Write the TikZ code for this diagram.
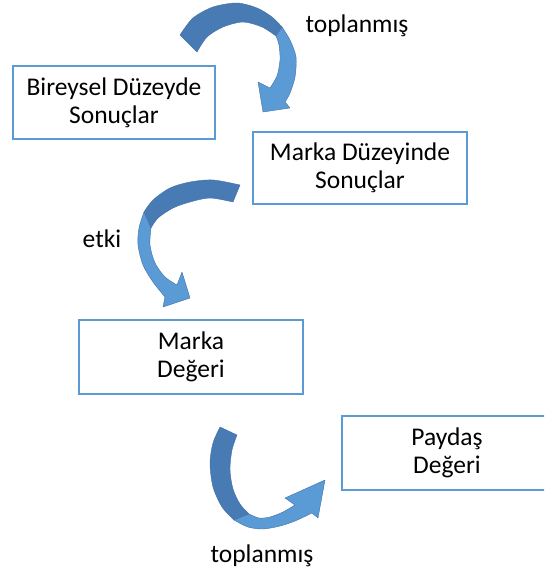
\documentclass[tikz,border=0pt]{standalone}
\usepackage{fontspec}
\setmainfont{Carlito}
\definecolor{boxblue}{RGB}{91,155,213}
\definecolor{arrowdark}{RGB}{72,122,180}
\definecolor{arrowlight}{RGB}{91,155,213}
\definecolor{arrowedge}{RGB}{66,112,168}
\begin{document}
\begin{tikzpicture}[x=1pt,y=-1pt,
  box/.style={draw=boxblue, line width=2pt, fill=white, align=center,
    font=\fontsize{25.5}{28}\selectfont, inner sep=0pt},
  lbl/.style={font=\fontsize{25.5}{28}\selectfont, inner sep=0pt},
  darkpart/.style={fill=arrowdark, draw=arrowedge, line width=0.4pt, line join=round},
  lightpart/.style={fill=arrowlight, draw=arrowedge, line width=0.4pt, line join=round}]
\clip (0,0) rectangle (544,569);
\fill[white] (0,0) rectangle (544,569);

% boxes
\node[box, minimum width=202pt, minimum height=73pt] (b1) at (114,103) {Bireysel Düzeyde\\Sonuçlar};
\node[box, minimum width=214pt, minimum height=72pt] (b2) at (360,168) {Marka Düzeyinde\\Sonuçlar};
\node[box, minimum width=224pt, minimum height=74pt] (b3) at (191,357) {Marka\\Değeri};
\node[box, minimum width=210pt, minimum height=74pt] (b4) at (447,453) {Paydaş\\Değeri};

% labels
\node[lbl, anchor=base] (t1) at (357,33) {toplanmış};
\node[lbl, anchor=base] (t2) at (102,247) {etki};
\node[lbl, anchor=base] (t3) at (262,562) {toplanmış};

% curved arrow: Bireysel -> Marka Düzeyinde
\filldraw[darkpart] plot[smooth] coordinates {(180,35) (193,18) (213,7) (237,3) (257,8) (272,17) (282,27)}
  -- plot[smooth] coordinates {(276,36) (262,27) (243,22) (223,27) (207,37) (197,52)} -- cycle;
\filldraw[lightpart] plot[smooth] coordinates {(282,27) (290,40) (296,57) (295,77) (290,93) (285,102)}
  -- (290,108) -- (263,112) -- (258,82)
  -- plot[smooth] coordinates {(270,88) (277,76) (280,60) (279,45) (276,36)} -- cycle;

% curved arrow: Marka Düzeyinde -> Marka Değeri
\filldraw[darkpart] plot[smooth] coordinates {(240,185) (213,180) (190,182) (170,188) (153,200) (144,212)}
  -- plot[smooth] coordinates {(151,228) (158,218) (173,208) (190,202) (210,198) (233,202)} -- cycle;
\filldraw[lightpart] plot[smooth] coordinates {(144,212) (139,228) (138,245) (143,265) (153,282) (165,297)}
  -- (163,307) -- (190,298) -- (182,272)
  -- plot[smooth] coordinates {(177,285) (165,277) (155,263) (150,245) (151,228)} -- cycle;

% curved arrow: Marka Değeri -> Paydaş Değeri
\filldraw[darkpart] plot[smooth] coordinates {(220,427) (213,443) (210,463) (213,487) (222,507) (234,520)}
  -- plot[smooth] coordinates {(249,514) (240,504) (233,489) (230,470) (232,450) (237,435)} -- cycle;
\filldraw[lightpart] plot[smooth] coordinates {(234,520) (248,527) (263,529) (280,526) (295,521) (312,513)}
  -- (318,518) -- (325,480) -- (285,498)
  -- plot[smooth] coordinates {(295,505) (283,512) (270,517) (259,518) (249,514)} -- cycle;
\end{tikzpicture}
\end{document}
